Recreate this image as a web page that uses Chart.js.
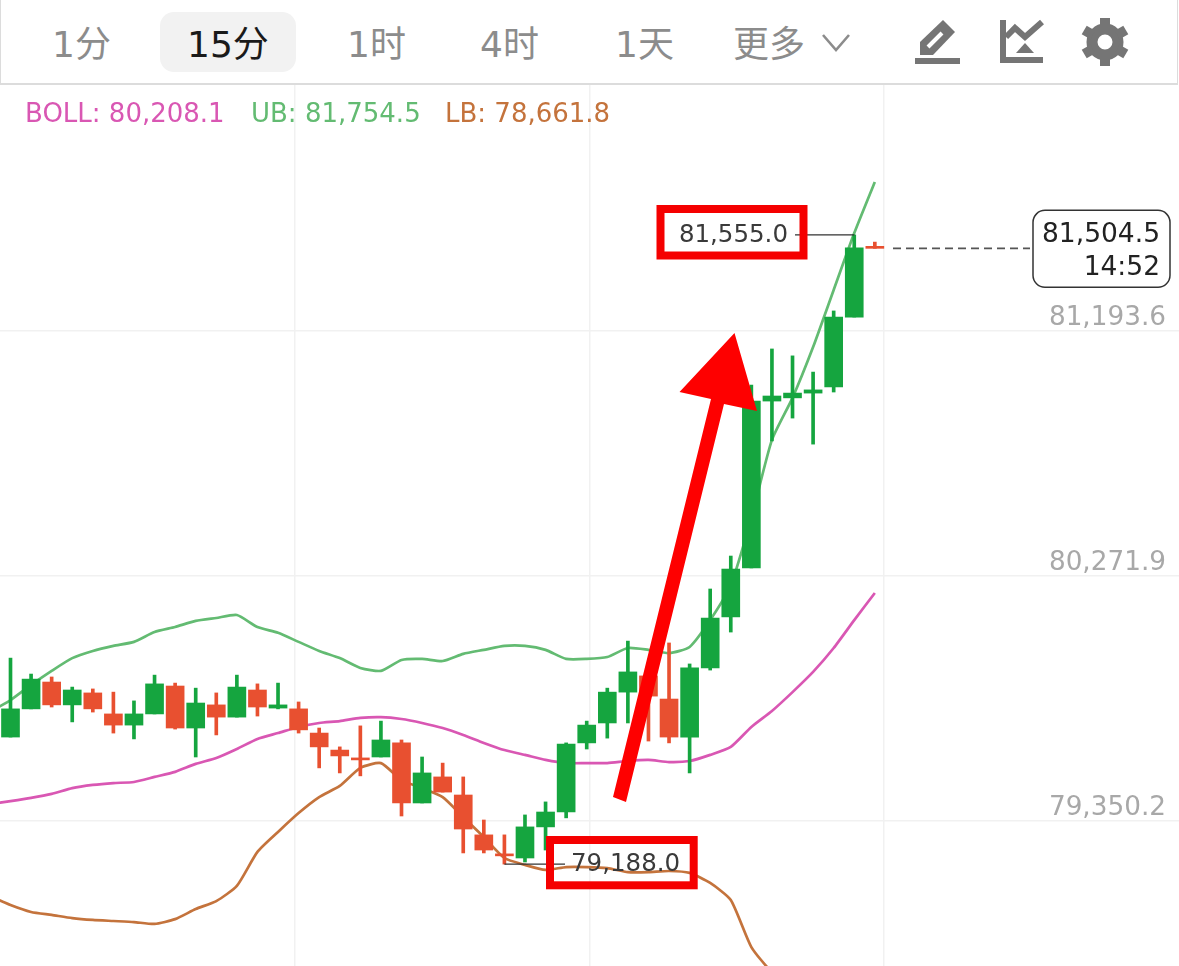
<!DOCTYPE html>
<html lang="zh">
<head>
<meta charset="utf-8">
<title>BTC 15分</title>
<script src="https://cdn.jsdelivr.net/npm/chart.js@4"></script>
<style>
    html, body { margin: 0; padding: 0; background: #fff; overflow: hidden; }
    #page { position: relative; width: 1179px; height: 966px; overflow: hidden; }
    #toolbar { position: absolute; left: 0; top: 0; width: 1176px; height: 83px; border: 1px solid #dcdcdc; border-top: none; border-bottom-width: 2px; }
    #pill { position: absolute; left: 160px; top: 12px; width: 136px; height: 60px; background: #f2f2f2; border-radius: 14px; }
    .tab { position: absolute; top: 21px; font: 36px/48px 'DejaVu Sans', 'Noto Sans CJK SC', sans-serif; color: #8c8c8c; white-space: nowrap; }
    .tab.on { color: #1a1a1a; }
    .boll { position: absolute; z-index: 2; top: 97px; font: 26px/32px 'DejaVu Sans', sans-serif; white-space: nowrap; }
    #chartBox { position: absolute; left: 0; top: 85px; width: 1179px; height: 881px; }
    #marks, #icons { position: absolute; left: 0; top: 0; pointer-events: none; }
</style>
</head>
<body>
<div id="page">
    <div id="toolbar"></div>
    <div id="pill"></div>
    <div class="tab" style="left:52px">1分</div>
    <div class="tab on" style="left:187px">15分</div>
    <div class="tab" style="left:347px">1时</div>
    <div class="tab" style="left:480px">4时</div>
    <div class="tab" style="left:615px">1天</div>
    <div class="tab" style="left:733px">更多</div>

    <div class="boll" style="left:25px;color:#d957b3">BOLL: 80,208.1</div>
    <div class="boll" style="left:251px;color:#63bb72">UB: 81,754.5</div>
    <div class="boll" style="left:445px;color:#c4733c">LB: 78,661.8</div>

    <div id="chartBox"><canvas id="chart" width="1179" height="881"></canvas></div>

    <svg id="icons" width="1179" height="85">
        <polyline points="823,35 836,50 849,35" fill="none" stroke="#8c8c8c" stroke-width="2.6"/>
        <g fill="#757575">
            <rect x="915" y="58" width="45" height="6"/>
            <polygon points="920,55 920,42 943,20 955,32 933,55"/>
            <rect x="1000" y="20" width="6" height="43"/>
            <rect x="1000" y="57" width="43" height="6"/>
            <polygon points="1016,53 1034,53 1025,43"/>
            <circle cx="1105" cy="42" r="13" fill="none" stroke="#757575" stroke-width="11"/>
            <rect x="1100" y="18" width="10" height="10"/>
            <rect x="1100" y="18" width="10" height="10" transform="rotate(60 1105 42)"/>
            <rect x="1100" y="18" width="10" height="10" transform="rotate(120 1105 42)"/>
            <rect x="1100" y="18" width="10" height="10" transform="rotate(180 1105 42)"/>
            <rect x="1100" y="18" width="10" height="10" transform="rotate(240 1105 42)"/>
            <rect x="1100" y="18" width="10" height="10" transform="rotate(300 1105 42)"/>
        </g>
        <line x1="928" y1="47" x2="942" y2="33" stroke="#fff" stroke-width="4"/>
        <polyline points="1006,37 1015,28 1025,37 1042,22" fill="none" stroke="#757575" stroke-width="6"/>
    </svg>

    <!-- hand drawn red marks on top of the screenshot -->
    <svg id="marks" width="1179" height="966">
        <rect x="660.5" y="209" width="143" height="46.5" fill="none" stroke="#f50000" stroke-width="8"/>
        <rect x="550" y="840" width="143.7" height="45.3" fill="none" stroke="#f50000" stroke-width="8"/>
        <polygon points="613,797 626,802 724,404 757,411 734.5,333 679.5,392 711,399" fill="#fe0000"/>
    </svg>
</div>

<script>
const opens = [79666, 79772, 79873, 79787, 79832, 79753, 79711, 79753, 79858, 79700, 79787, 79741, 79843, 79775, 79772, 79681, 79617, 79583, 79591, 79644, 79418, 79516, 79448, 79298, 79226, 79211, 79328, 79384, 79644, 79719, 79835, 79896, 79809, 79666, 79926, 80118, 80302, 80930, 80942, 80960, 80983, 81246, 81507];
const highs = [79963, 79903, 79892, 79854, 79847, 79835, 79802, 79899, 79869, 79850, 79832, 79899, 79866, 79869, 79798, 79700, 79629, 79708, 79726, 79655, 79591, 79568, 79516, 79354, 79298, 79373, 79422, 79644, 79726, 79850, 80027, 79918, 80020, 79941, 80223, 80347, 80990, 81126, 81100, 81039, 81269, 81555, 81528];
const lows = [79666, 79772, 79779, 79723, 79760, 79681, 79659, 79753, 79696, 79591, 79674, 79741, 79745, 79772, 79681, 79550, 79531, 79520, 79591, 79369, 79418, 79459, 79230, 79230, 79188, 79196, 79241, 79362, 79621, 79662, 79719, 79651, 79644, 79531, 79918, 80061, 80302, 80780, 80866, 80768, 80964, 81246, 81504.5];
const closes = [79772, 79884, 79787, 79843, 79772, 79711, 79753, 79866, 79700, 79794, 79741, 79854, 79779, 79787, 79693, 79629, 79595, 79580, 79655, 79418, 79531, 79459, 79320, 79241, 79219, 79328, 79384, 79640, 79711, 79835, 79911, 79820, 79666, 79926, 80114, 80298, 80930, 80949, 80960, 80972, 81246, 81506, 81504.5];

// bands start one candle before the first visible one, so the lines reach the left edge
const ubLine = [79760, 79805, 79862, 79915, 79963, 79990, 80009, 80024, 80061, 80080, 80103, 80114, 80125, 80080, 80058, 80024, 79990, 79963, 79926, 79915, 79956, 79960, 79952, 79979, 79994, 80009, 80009, 79994, 79960, 79960, 79967, 80001, 79994, 79982, 80005, 80106, 80238, 80490, 80784, 80942, 81133, 81348, 81562, 81754.5];
const bollLine = [79414, 79425, 79437, 79452, 79474, 79486, 79493, 79497, 79516, 79535, 79565, 79587, 79621, 79659, 79681, 79704, 79719, 79726, 79738, 79741, 79734, 79719, 79700, 79674, 79644, 79617, 79599, 79580, 79568, 79568, 79568, 79576, 79580, 79572, 79576, 79599, 79629, 79704, 79764, 79835, 79911, 80001, 80106, 80208.1];
const lbLine = [79068, 79034, 79008, 78997, 78985, 78978, 78974, 78970, 78963, 78981, 79019, 79049, 79106, 79234, 79309, 79380, 79440, 79482, 79550, 79568, 79504, 79474, 79440, 79365, 79290, 79211, 79185, 79166, 79177, 79177, 79173, 79158, 79158, 79162, 79155, 79117, 79053, 78876, 78782, 78733, 78703, 78684, 78669, 78661.8];

const priceTicks = [79350.2, 80271.9, 81193.6];
const timeGrid = [13.82, 28.16, 42.44];
const lastPrice = 81504.5;
const countdown = '14:52';

const upColor = '#15a53f';
const downColor = '#e85030';
const numFont = "'DejaVu Sans', sans-serif";

function fmt(v) {
    return v.toLocaleString('en-US', { minimumFractionDigits: 1, maximumFractionDigits: 1 });
}

const candleColors = opens.map((o, i) => closes[i] >= o ? upColor : downColor);

function bandDataset(values, color) {
    return {
        type: 'line',
        data: values.map((v, i) => ({ x: i - 1, y: v })),
        borderColor: color,
        borderWidth: 2.7,
        pointRadius: 0,
        tension: 0.2,
        order: 3
    };
}

// no room reserved for the axes, the labels sit inside the plot
function noAxisRoom(axis) {
    if (axis.axis === 'y') axis.width = 0;
    else axis.height = 0;
    axis.paddingTop = axis.paddingBottom = axis.paddingLeft = axis.paddingRight = 0;
}

// high / low labels and the last price tag
const priceLabels = {
    id: 'priceLabels',
    afterDatasetsDraw(chart) {
        const { ctx, scales: { x, y } } = chart;
        const hiIdx = highs.indexOf(Math.max(...highs));
        const loIdx = lows.indexOf(Math.min(...lows));
        const hiY = y.getPixelForValue(highs[hiIdx]);
        const loY = y.getPixelForValue(lows[loIdx]);
        const lastY = y.getPixelForValue(lastPrice);

        ctx.save();
        ctx.strokeStyle = '#333';
        ctx.lineWidth = 1.4;
        ctx.beginPath();
        ctx.moveTo(x.getPixelForValue(hiIdx), hiY);
        ctx.lineTo(795, hiY);
        ctx.moveTo(x.getPixelForValue(loIdx), loY);
        ctx.lineTo(565, loY);
        ctx.stroke();

        ctx.font = '24.5px ' + numFont;
        ctx.fillStyle = '#3a3a3a';
        ctx.textBaseline = 'middle';
        ctx.textAlign = 'right';
        ctx.fillText(fmt(highs[hiIdx]), 788, hiY + 1);
        ctx.textAlign = 'left';
        ctx.fillText(fmt(lows[loIdx]), 571, loY + 1);

        ctx.setLineDash([8, 5]);
        ctx.strokeStyle = '#555';
        ctx.lineWidth = 1.7;
        ctx.beginPath();
        ctx.moveTo(893, lastY);
        ctx.lineTo(1030, lastY);
        ctx.stroke();
        ctx.setLineDash([]);

        ctx.beginPath();
        ctx.roundRect(1033, lastY - 38, 137, 77, 12);
        ctx.fillStyle = '#fff';
        ctx.fill();
        ctx.strokeStyle = '#333';
        ctx.lineWidth = 1.5;
        ctx.stroke();

        ctx.font = '26.5px ' + numFont;
        ctx.fillStyle = '#222';
        ctx.textAlign = 'right';
        ctx.fillText(fmt(lastPrice), 1160, lastY - 13);
        ctx.fillText(countdown, 1160, lastY + 20);
        ctx.restore();
    }
};

new Chart(document.getElementById('chart'), {
    type: 'bar',
    plugins: [priceLabels],
    data: {
        datasets: [
            {
                data: opens.map((o, i) => ({ x: i, y: [o, closes[i]] })),
                backgroundColor: candleColors,
                barThickness: 18,
                minBarLength: 2,
                grouped: false,
                order: 1
            },
            {
                data: highs.map((h, i) => ({ x: i, y: [lows[i], h] })),
                backgroundColor: candleColors,
                barThickness: 3,
                grouped: false,
                order: 2
            },
            bandDataset(ubLine, '#63bb72'),
            bandDataset(bollLine, '#d957b3'),
            bandDataset(lbLine, '#c4733c')
        ]
    },
    options: {
        responsive: false,
        animation: false,
        layout: { padding: 0, autoPadding: false },
        plugins: { legend: { display: false }, tooltip: { enabled: false } },
        scales: {
            x: {
                type: 'linear',
                offset: false,
                min: -0.51,
                max: 56.78,
                border: { display: false },
                grid: { color: '#f1f1f1', lineWidth: 1.5, drawTicks: false, offset: false },
                ticks: { display: false },
                afterFit: noAxisRoom,
                afterBuildTicks(axis) {
                    axis.ticks = timeGrid.map(v => ({ value: v }));
                }
            },
            y: {
                position: 'right',
                min: 78804.7,
                max: 82119,
                border: { display: false },
                grid: { color: '#f1f1f1', lineWidth: 1.5, drawTicks: false },
                ticks: {
                    mirror: true,
                    padding: -13,
                    labelOffset: -13,
                    color: '#a8a8a8',
                    font: { family: numFont, size: 26.3 },
                    callback: v => fmt(v)
                },
                afterFit: noAxisRoom,
                afterBuildTicks(axis) {
                    axis.ticks = priceTicks.map(v => ({ value: v }));
                }
            }
        }
    }
});
</script>
</body>
</html>
